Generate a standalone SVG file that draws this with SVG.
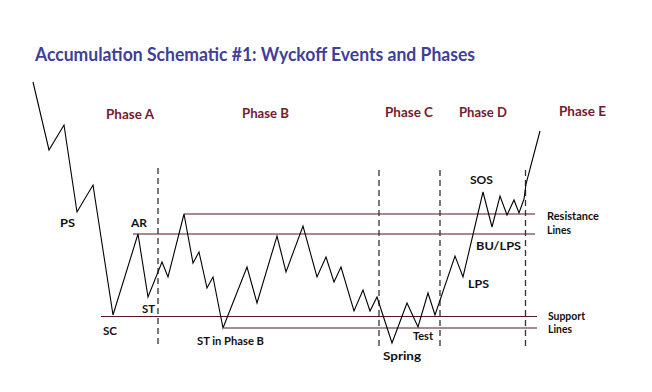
<svg xmlns="http://www.w3.org/2000/svg" width="652" height="392" viewBox="0 0 652 392">
<style>
.title{font-family:Lato,"Open Sans","Liberation Sans",sans-serif;font-weight:bold;font-size:18px;fill:#3f3f97}
.phase{font-family:Lato,"Open Sans","Liberation Sans",sans-serif;font-weight:bold;font-size:13px;fill:#761a30}
.ev{font-family:Lato,"Open Sans","Liberation Sans",sans-serif;font-weight:bold;font-size:12px;fill:#111}
.sm{font-family:Lato,"Open Sans","Liberation Sans",sans-serif;font-weight:bold;font-size:10.5px;fill:#111}
.lvl{stroke:#561624;stroke-width:1.2;fill:none}
.div{stroke:#333;stroke-width:1.3;stroke-dasharray:6 4;fill:none}
.price{stroke:#000;stroke-width:1.1;fill:none;stroke-linejoin:miter}
</style>
<rect width="652" height="392" fill="#fff"/>
<text id="title" class="title" x="35" y="61" textLength="440" lengthAdjust="spacingAndGlyphs">Accumulation Schematic #1: Wyckoff Events and Phases</text>
<g id="phases">
<text class="phase" x="106" y="119" textLength="48" lengthAdjust="spacingAndGlyphs">Phase A</text>
<text class="phase" x="242" y="118" textLength="47" lengthAdjust="spacingAndGlyphs">Phase B</text>
<text class="phase" x="385" y="117" textLength="48" lengthAdjust="spacingAndGlyphs">Phase C</text>
<text class="phase" x="459" y="117" textLength="48" lengthAdjust="spacingAndGlyphs">Phase D</text>
<text class="phase" x="559" y="116" textLength="47" lengthAdjust="spacingAndGlyphs">Phase E</text>
</g>
<g id="levels">
<line class="lvl" x1="184" y1="214" x2="535" y2="214"/>
<line class="lvl" x1="133" y1="234" x2="535" y2="234"/>
<line class="lvl" x1="101" y1="316.5" x2="537" y2="316.5"/>
<line class="lvl" x1="224" y1="328" x2="537" y2="328"/>
</g>
<g id="dividers">
<line class="div" x1="158" y1="168" x2="158" y2="348"/>
<line class="div" x1="379" y1="170" x2="379" y2="350"/>
<line class="div" x1="440" y1="170" x2="440" y2="350"/>
<line class="div" x1="525.5" y1="170" x2="525.5" y2="349"/>
</g>
<g id="price">
<polyline class="price" points="33,82 49,150 64,125 77,212 93,185 113,315 138,234 148,297 162,262 168,277 184,214 193,263 199,252 207,288 213,277 223,328 247,267 257,303 277,236 286,272 303,226 317,277 326,257 334,282 341,267 354,311 363,290 370,311 377,297 392,343 407,303 418,327 428,293 435,315 455,256 463,277 483,192 492,227 500,196 507,215 514,200 519,213 524,199 526,184 540,131"/>
</g>
<g id="events">
<text class="ev" x="60" y="227" textLength="15" lengthAdjust="spacingAndGlyphs">PS</text>
<text class="ev" x="131" y="227" textLength="16" lengthAdjust="spacingAndGlyphs">AR</text>
<text class="ev" x="142" y="313" textLength="13" lengthAdjust="spacingAndGlyphs">ST</text>
<text class="ev" x="103" y="335" textLength="14" lengthAdjust="spacingAndGlyphs">SC</text>
<text class="sm" x="197" y="345" textLength="67" lengthAdjust="spacingAndGlyphs">ST in Phase B</text>
<text class="ev" x="383" y="360" textLength="38" lengthAdjust="spacingAndGlyphs">Spring</text>
<text class="sm" x="413" y="340" textLength="20" lengthAdjust="spacingAndGlyphs">Test</text>
<text class="ev" x="468" y="288" textLength="21" lengthAdjust="spacingAndGlyphs">LPS</text>
<text class="ev" x="476" y="250" textLength="45" lengthAdjust="spacingAndGlyphs">BU/LPS</text>
<text class="ev" x="470" y="184" textLength="23" lengthAdjust="spacingAndGlyphs">SOS</text>
</g>
<g id="level-labels">
<text class="sm" x="547" y="220" textLength="52" lengthAdjust="spacingAndGlyphs">Resistance</text>
<text class="sm" x="547" y="234" textLength="24" lengthAdjust="spacingAndGlyphs">Lines</text>
<text class="sm" x="548" y="320" textLength="37" lengthAdjust="spacingAndGlyphs">Support</text>
<text class="sm" x="548" y="333" textLength="24" lengthAdjust="spacingAndGlyphs">Lines</text>
</g>
</svg>
